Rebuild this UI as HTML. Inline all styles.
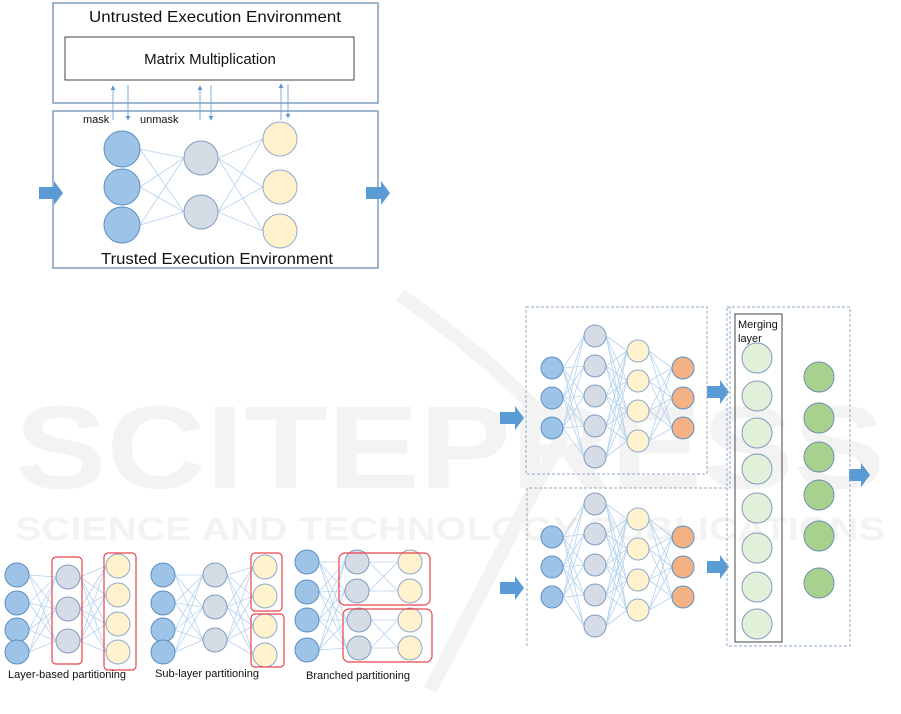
<!DOCTYPE html>
<html><head><meta charset="utf-8"><style>
body{margin:0;background:#fff}
svg{display:block}
text{font-family:"Liberation Sans",sans-serif;fill:#111}
</style></head><body>
<svg id="s" width="901" height="714" viewBox="0 0 901 714" xmlns="http://www.w3.org/2000/svg">
<defs>
<marker id="a" markerWidth="6" markerHeight="6" refX="5" refY="3" orient="auto"><path d="M0,0 L6,3 L0,6 z" fill="#5b9bd5"/></marker>
</defs>
<!-- watermark -->
<text x="450" y="488" font-size="118" font-weight="bold" text-anchor="middle" textLength="870" lengthAdjust="spacingAndGlyphs" style="fill:#f3f3f3">SCITEPRESS</text>
<text x="450" y="540" font-size="32" font-weight="bold" text-anchor="middle" textLength="870" lengthAdjust="spacingAndGlyphs" style="fill:#f3f3f3">SCIENCE AND TECHNOLOGY PUBLICATIONS</text>
<path d="M400,295 Q520,380 560,440 L430,690" fill="none" stroke="#f3f3f3" stroke-width="14"/>
<g id="lines" stroke="#b4d2ee" stroke-width="0.8" fill="none"></g>
<!-- Top panel -->
<rect x="53" y="3" width="325" height="100" fill="none" stroke="#6d8fb3" stroke-width="1.3"/>
<rect x="65" y="37" width="289" height="43" fill="none" stroke="#444" stroke-width="1"/>
<rect x="53" y="111" width="325" height="157" fill="none" stroke="#6d8fb3" stroke-width="1.3"/>
<text x="215" y="22" font-size="16" text-anchor="middle" textLength="252" lengthAdjust="spacingAndGlyphs">Untrusted Execution Environment</text>
<text x="210" y="64" font-size="15" text-anchor="middle">Matrix Multiplication</text>
<text x="217" y="264" font-size="16" text-anchor="middle" textLength="232" lengthAdjust="spacingAndGlyphs">Trusted Execution Environment</text>
<text x="83" y="123" font-size="11">mask</text>
<text x="140" y="123" font-size="11">unmask</text>
<g stroke="#5b9bd5" stroke-width="0.8" marker-end="url(#a)">
<line x1="113" y1="120" x2="113" y2="86"/><line x1="128" y1="85" x2="128" y2="120"/>
<line x1="200" y1="120" x2="200" y2="86"/><line x1="211" y1="85" x2="211" y2="120"/>
<line x1="281" y1="120" x2="281" y2="84"/><line x1="288" y1="84" x2="288" y2="118"/>
</g>
<g id="nodes"></g>
<g fill="#5b9bd5">
<path d="M39,187 h15 v-6 l9,12 l-9,12 v-6 h-15z"/>
<path d="M366,187 h15 v-6 l9,12 l-9,12 v-6 h-15z"/>
<path d="M500,412 h15 v-6 l9,12 l-9,12 v-6 h-15z"/>
<path d="M500,582 h15 v-6 l9,12 l-9,12 v-6 h-15z"/>
<path d="M707,386 h13 v-6 l9,12 l-9,12 v-6 h-13z"/>
<path d="M707,561 h13 v-6 l9,12 l-9,12 v-6 h-13z"/>
<path d="M849,469 h12 v-6 l9,12 l-9,12 v-6 h-12z"/>
</g>
<!-- right dotted boxes -->
<g fill="none" stroke="#8fa9c9" stroke-width="1" stroke-dasharray="3,2">
<rect x="526" y="307" width="181" height="167"/>
<path d="M527,646 V488 H730 V307"/>
<rect x="727" y="307" width="123" height="339"/>
</g>
<rect x="735" y="314" width="47" height="328" fill="none" stroke="#444" stroke-width="1"/>
<text x="738" y="328" font-size="11">Merging</text>
<text x="738" y="342" font-size="11">layer</text>
<!-- red boxes -->
<g fill="none" stroke="#e8434b" stroke-width="1.2">
<rect x="52" y="557" width="30" height="107" rx="4"/>
<rect x="104" y="553" width="32" height="117" rx="4"/>
<rect x="251" y="553" width="31" height="58" rx="4"/>
<rect x="251" y="614" width="33" height="53" rx="4"/>
<rect x="339" y="553" width="91" height="52" rx="6"/>
<rect x="343" y="609" width="89" height="53" rx="6"/>
</g>
<text x="8" y="678" font-size="11">Layer-based partitioning</text>
<text x="155" y="677" font-size="11">Sub-layer partitioning</text>
<text x="306" y="679" font-size="11">Branched partitioning</text>
</svg>
<script>
var L=document.getElementById('lines'),N=document.getElementById('nodes'),ns='http://www.w3.org/2000/svg';
var C={b:['#9dc3e6','#5b8fc4'],g:['#d6dce5','#7f9cbf'],y:['#fff2cc','#8fa9c9'],o:['#f4b183','#5b8fc4'],lg:['#e2f0d9','#7f9cbf'],dg:['#a9d18e','#6d8fb3']};
function col(x,ys,r,c){return ys.map(function(y){return {x:x,y:y,r:r,c:c}})}
function draw(ns2){ns2.forEach(function(n){var e=document.createElementNS(ns,'circle');e.setAttribute('cx',n.x);e.setAttribute('cy',n.y);e.setAttribute('r',n.r);e.setAttribute('fill',C[n.c][0]);e.setAttribute('stroke',C[n.c][1]);e.setAttribute('stroke-width','1');N.appendChild(e);});}
function link(A,B){A.forEach(function(a){B.forEach(function(b){var e=document.createElementNS(ns,'line');e.setAttribute('x1',a.x+a.r);e.setAttribute('y1',a.y);e.setAttribute('x2',b.x-b.r);e.setAttribute('y2',b.y);L.appendChild(e);});});}
function net(layers){for(var i=0;i<layers.length-1;i++)link(layers[i],layers[i+1]);layers.forEach(draw);}
net([col(122,[149,187,225],18,'b'),col(201,[158,212],17,'g'),col(280,[139,187,231],17,'y')]);
net([col(17,[575,603,630,652],12,'b'),col(68,[577,609,641],12,'g'),col(118,[566,595,624,652],12,'y')]);
net([col(163,[575,603,630,652],12,'b'),col(215,[575,607,640],12,'g'),col(265,[567,596,626,655],12,'y')]);
var bb=col(307,[562,592,620,650],12,'b'),g1=col(357,[562,591],12,'g'),g2=col(359,[620,648],12,'g'),y1=col(410,[562,591],12,'y'),y2=col(410,[620,648],12,'y');
link(bb,g1);link(bb,g2);link(g1,y1);link(g2,y2);[bb,g1,g2,y1,y2].forEach(draw);
net([col(552,[368,398,428],11,'b'),col(595,[336,366,396,426,457],11,'g'),col(638,[351,381,411,441],11,'y'),col(683,[368,398,428],11,'o')]);
net([col(552,[537,567,597],11,'b'),col(595,[504,534,565,595,626],11,'g'),col(638,[519,549,580,610],11,'y'),col(683,[537,567,597],11,'o')]);
draw(col(757,[358,396,433,469,508,548,587,624],15,'lg'));
draw(col(819,[377,418,457,495,536,583],15,'dg'));
</script>
</body></html>
